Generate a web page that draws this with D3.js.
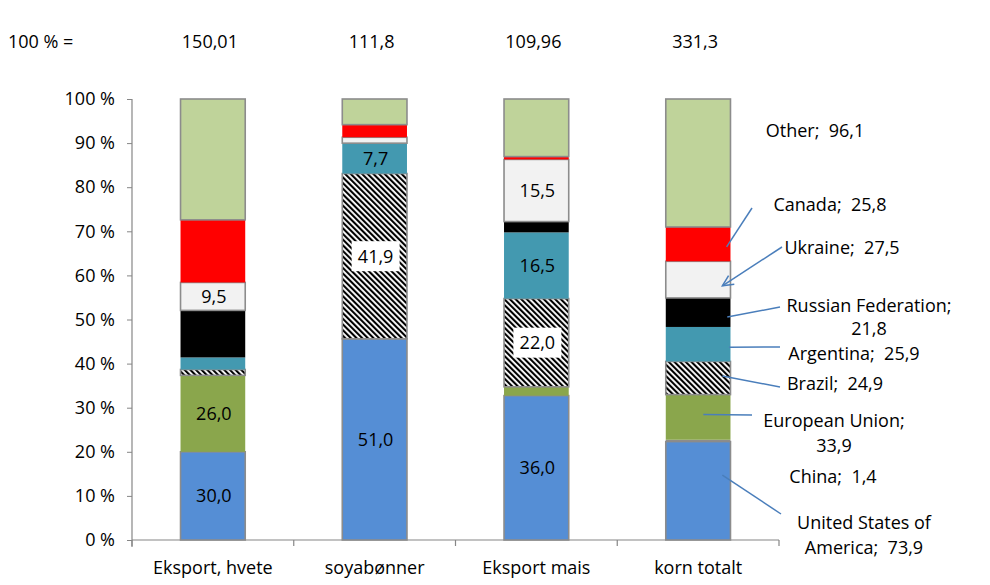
<!DOCTYPE html>
<html>
<head>
<meta charset="utf-8">
<script src="https://cdn.jsdelivr.net/npm/d3@7"></script>
<style>
  body { margin: 0; background: #fff; }
  svg text { font-family: "Open Sans", "Noto Sans", sans-serif; fill: #000; white-space: pre; }
</style>
</head>
<body>
<svg id="chart" width="990" height="585"></svg>
<script>
// ---------- DATA ----------
const categories = ["Eksport, hvete", "soyabønner", "Eksport mais", "korn totalt"];
const totals = [150.01, 111.8, 109.96, 331.3];
const seriesNames = ["United States of America", "China", "European Union", "Brazil",
  "Argentina", "Russian Federation", "Ukraine", "Canada", "Other"];
const usaValues       = [30.0, 51.0, 36.0, 73.9];
const chinaValues     = [0, 0, 0, 1.4];
const euValues        = [26.0, 0, 2.2, 33.9];
const brazilValues    = [2.0, 41.9, 22.0, 24.9];
const argentinaValues = [4.1, 7.7, 16.5, 25.9];
const russiaValues    = [16.0, 0, 2.7, 21.8];
const ukraineValues   = [9.5, 1.5, 15.5, 27.5];
const canadaValues    = [21.3, 3.2, 0.7, 25.8];
const otherValues     = [41.1, 6.5, 14.36, 96.1];
const yTicks = [0, 0.1, 0.2, 0.3, 0.4, 0.5, 0.6, 0.7, 0.8, 0.9, 1.0];
// segments labelled inside bars: [series, category]
const innerLabels = [
  ["United States of America", "Eksport, hvete"], ["European Union", "Eksport, hvete"], ["Ukraine", "Eksport, hvete"],
  ["United States of America", "soyabønner"], ["Brazil", "soyabønner"], ["Argentina", "soyabønner"],
  ["United States of America", "Eksport mais"], ["Brazil", "Eksport mais"], ["Argentina", "Eksport mais"], ["Ukraine", "Eksport mais"]
];
// ---------- STYLE / LAYOUT ----------
const seriesValues = [usaValues, chinaValues, euValues, brazilValues, argentinaValues,
  russiaValues, ukraineValues, canadaValues, otherValues];
const fills = {
  "United States of America": "#558ed5", "China": "#8c8c8c", "European Union": "#8aa64c",
  "Brazil": "url(#hatch)", "Argentina": "#4399b0", "Russian Federation": "#000000",
  "Ukraine": "#f2f2f2", "Canada": "#ff0000", "Other": "#bfd39a"
};
const stroked = new Set(["United States of America", "Brazil", "Ukraine", "Other"]);
const boxedLabels = new Set(["Brazil"]);

// external annotations for last bar (label positions in px; bar endpoint as fractions)
const annotations = [
  { s: "Other", lines: ["Other;  96,1"], cx: 815, cy: 131 },
  { s: "Canada", lines: ["Canada;  25,8"], cx: 830, cy: 205, lx: 752, ly: 208, fx: 0.94, fy: 0.58 },
  { s: "Ukraine", lines: ["Ukraine;  27,5"], cx: 842, cy: 248, lx: 782, ly: 247, fx: 0.875, fy: 0.67, arrow: true },
  { s: "Russian Federation", lines: ["Russian Federation;", "21,8"], cx: 869, cy: 306, lx: 780, ly: 307, fx: 0.95, fy: 0.66, gap: 23 },
  { s: "Argentina", lines: ["Argentina;  25,9"], cx: 854, cy: 354, lx: 780, ly: 347, fx: 0.98, fy: 0.59 },
  { s: "Brazil", lines: ["Brazil;  24,9"], cx: 835, cy: 384, lx: 780, ly: 387, fx: 0.875, fy: 0.44 },
  { s: "European Union", lines: ["European Union;", "33,9"], cx: 834, cy: 421, lx: 752, ly: 415, fx: 0.58, fy: 0.44 },
  { s: "China", lines: ["China;  1,4"], cx: 833, cy: 477 },
  { s: "United States of America", lines: ["United States of", "America;  73,9"], cx: 864, cy: 523, lx: 781, ly: 514, fx: 0.875, fy: 0.34 }
];

const locale = d3.formatLocale({ decimal: ",", thousands: " ", grouping: [3], currency: ["", ""] });
const fmt1 = locale.format(".1f");
const fmtTot = locale.format("~f");

const svg = d3.select("#chart");
const fontSize = 18;

// hatch pattern
const defs = svg.append("defs");
const pat = defs.append("pattern").attr("id", "hatch").attr("patternUnits", "userSpaceOnUse")
  .attr("width", 4).attr("height", 10).attr("patternTransform", "rotate(-45)");
pat.append("rect").attr("width", 4).attr("height", 10).attr("fill", "#fff");
pat.append("rect").attr("x", 0).attr("width", 2.1).attr("height", 10).attr("fill", "#000");

const x = d3.scaleBand().domain(categories).range([132, 779]).paddingInner(0.6).paddingOuter(0.3);
const y = d3.scaleLinear().domain([0, 1]).range([540, 99]);

// table rows
const rows = categories.map((c, i) => {
  const r = { cat: c };
  seriesNames.forEach((s, j) => r[s] = seriesValues[j][i]);
  return r;
});
const stack = d3.stack().keys(seriesNames).offset(d3.stackOffsetExpand);
const layers = stack(rows);

// Y axis
const yAxis = svg.append("g").attr("transform", "translate(132,0)")
  .call(d3.axisLeft(y).tickValues(yTicks).tickSize(5).tickSizeOuter(0)
    .tickFormat(d => Math.round(d * 100) + " %"));
yAxis.select(".domain").attr("stroke", "#868686").attr("stroke-width", 1.2)
  .attr("d", `M0,${y(1)}V${y(0) + 7}`);
yAxis.selectAll(".tick line").attr("stroke", "#868686");
yAxis.selectAll(".tick text").attr("x", -17).attr("font-size", fontSize)
  .style("font-family", '"Open Sans", sans-serif').attr("fill", "#000");

// X axis
const xg = svg.append("g");
xg.append("line").attr("x1", x.range()[0]).attr("x2", x.range()[1])
  .attr("y1", y(0)).attr("y2", y(0)).attr("stroke", "#868686").attr("stroke-width", 1.2);
d3.range(categories.length + 1).forEach(i => {
  const bx = x.range()[0] + i * x.step();
  xg.append("line").attr("x1", bx).attr("x2", bx).attr("y1", y(0)).attr("y2", y(0) + 6)
    .attr("stroke", "#868686").attr("stroke-width", 1.2);
});
xg.selectAll("text.cat").data(categories).join("text").attr("class", "cat")
  .attr("x", d => x(d) + x.bandwidth() / 2).attr("y", 574)
  .attr("text-anchor", "middle").attr("font-size", fontSize).text(d => d);

// bars
const bars = svg.append("g");
layers.forEach(layer => {
  const s = layer.key;
  bars.selectAll(null).data(layer.filter(d => d[1] - d[0] > 0)).join("rect")
    .attr("x", d => x(d.data.cat))
    .attr("width", x.bandwidth())
    .attr("y", d => y(d[1]))
    .attr("height", d => y(d[0]) - y(d[1]))
    .attr("fill", fills[s])
    .attr("stroke", stroked.has(s) ? "#8c8c8c" : "none")
    .attr("stroke-width", 1.6);
});

// inner labels
const lblG = svg.append("g");
innerLabels.forEach(([s, c]) => {
  const layer = layers.find(l => l.key === s);
  const ci = categories.indexOf(c);
  const d = layer[ci];
  const cx = x(c) + x.bandwidth() / 2 + 1;
  const cy = (y(d[0]) + y(d[1])) / 2;
  const txt = fmt1(d.data[s]);
  if (boxedLabels.has(s)) {
    lblG.append("rect").attr("x", cx - 24).attr("y", cy - 15).attr("width", 48).attr("height", 30)
      .attr("fill", "#fff");
  }
  lblG.append("text").attr("x", cx).attr("y", cy).attr("dy", "0.36em")
    .attr("text-anchor", "middle").attr("font-size", fontSize).text(txt);
});

// totals row
svg.append("text").attr("x", 8).attr("y", 42).attr("dy", "0.36em").attr("font-size", fontSize).text("100 % =");
svg.selectAll("text.tot").data(totals).join("text").attr("class", "tot")
  .attr("x", (d, i) => x(categories[i]) + x.bandwidth() / 2 - 3).attr("y", 42).attr("dy", "0.36em")
  .attr("text-anchor", "middle").attr("font-size", fontSize).text(d => fmtTot(d));

// annotations for last bar
const lastCat = categories[categories.length - 1];
const lastIdx = categories.length - 1;
const annG = svg.append("g");
annotations.forEach(a => {
  a.lines.forEach((ln, k) => {
    annG.append("text").attr("x", a.cx).attr("y", a.cy + k * (a.gap || 24.5)).attr("dy", "0.36em")
      .attr("text-anchor", "middle").attr("font-size", fontSize).text(ln);
  });
  if (a.lx !== undefined) {
    const d = layers.find(l => l.key === a.s)[lastIdx];
    const px = x(lastCat) + a.fx * x.bandwidth();
    const py = y(d[1]) + a.fy * (y(d[0]) - y(d[1]));
    annG.append("line").attr("x1", a.lx).attr("y1", a.ly).attr("x2", px).attr("y2", py)
      .attr("stroke", "#4a7ebb").attr("stroke-width", 1.5);
    if (a.arrow) {
      const ang = Math.atan2(a.ly - py, a.lx - px);
      const L = 12, spread = 0.45;
      const p1 = [px + L * Math.cos(ang + spread), py + L * Math.sin(ang + spread)];
      const p2 = [px + L * Math.cos(ang - spread), py + L * Math.sin(ang - spread)];
      annG.append("path").attr("d", `M${p1[0]},${p1[1]}L${px},${py}L${p2[0]},${p2[1]}`)
        .attr("fill", "none").attr("stroke", "#4a7ebb").attr("stroke-width", 1.5);
    }
  }
});
</script>
</body>
</html>
